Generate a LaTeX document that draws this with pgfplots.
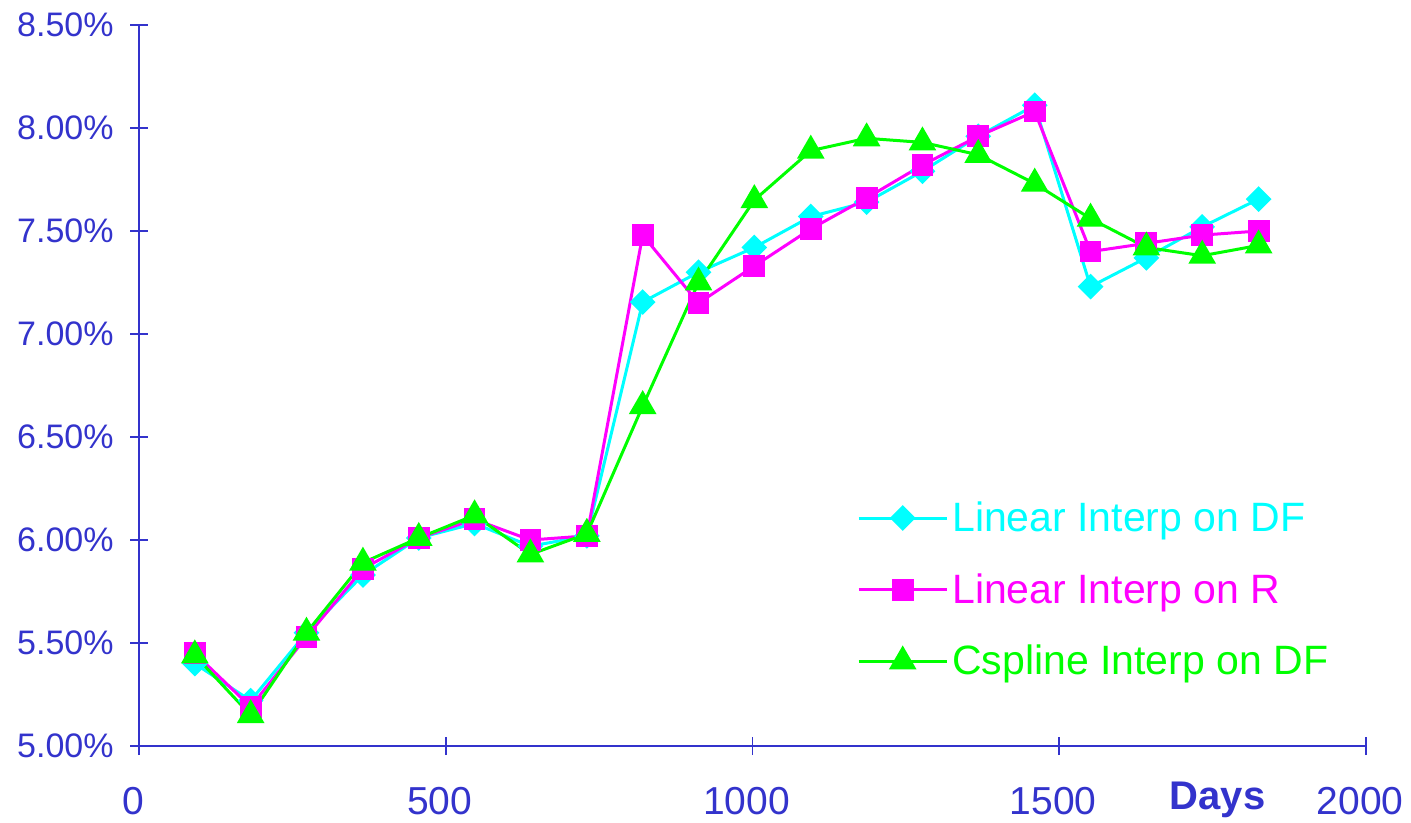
\documentclass[border=0pt]{standalone}
\usepackage{pgfplots}
\pgfplotsset{compat=1.18}
\usepackage{fontspec}
\setmainfont{Liberation Sans}
\definecolor{axblue}{RGB}{51,51,204}
\definecolor{ccyan}{RGB}{0,255,255}
\definecolor{cmag}{RGB}{255,0,255}
\definecolor{cgreen}{RGB}{0,255,0}
\begin{document}
\begin{tikzpicture}
\begin{axis}[
  scale only axis,
  width=613.5pt, height=360.5pt,
  xmin=0, xmax=2000, ymin=5, ymax=8.5,
  axis lines=left,
  axis line style={-, axblue, line width=0.8pt},
  tick style={axblue, line width=0.8pt},
  tick align=center,
  major tick length=9pt,
  xtick={0,500,1000,1500,2000},
  xticklabels={0,500,1000,1500,2000},
  ytick={5,5.5,6,6.5,7,7.5,8,8.5},
  yticklabels={5.00\%,5.50\%,6.00\%,6.50\%,7.00\%,7.50\%,8.00\%,8.50\%},
  yticklabel style={font=\fontsize{17}{20}\selectfont, text=axblue, inner sep=0pt, anchor=east, xshift=-8pt},
  xticklabel style={font=\fontsize{19.5}{22}\selectfont, text=axblue, inner sep=0pt, anchor=north, yshift=-16pt, xshift=-3pt},
  xlabel={\textbf{Days}},
  xlabel style={at={(rel axis cs:0.879,0)}, anchor=north, inner sep=0pt, yshift=-18pt, font=\fontsize{20}{24}\selectfont, text=axblue},
  clip=false,
  legend style={at={(rel axis cs:0.585,0.345)}, anchor=north west, draw=none, fill=none,
    font=\fontsize{20.5}{24}\selectfont, row sep=15.5pt, inner sep=0pt},
  legend cell align=left,
  legend image code/.code={\draw[mark repeat=2,mark phase=2,#1] plot coordinates {(0pt,0pt) (22pt,0pt) (44pt,0pt)};},
]
\addplot[ccyan, line width=1.5pt, mark=square*, mark size=3.8pt, mark options={rotate=45, solid, fill=ccyan, draw=ccyan}] coordinates {
(91,5.40) (182,5.22) (273,5.55) (365,5.83) (456,6.01) (547,6.08) (638,5.97) (730,6.02) (821,7.155) (912,7.30)
(1003,7.42) (1095,7.57) (1186,7.64) (1277,7.79) (1368,7.96) (1460,8.11) (1551,7.23) (1642,7.37) (1733,7.52) (1825,7.655)};
\addlegendentry{\textcolor{ccyan}{Linear Interp on DF}}
\addplot[cmag, line width=1.5pt, mark=square*, mark size=4.7pt, mark options={solid, fill=cmag, draw=cmag}] coordinates {
(91,5.45) (182,5.19) (273,5.53) (365,5.86) (456,6.01) (547,6.10) (638,6.00) (730,6.02) (821,7.48) (912,7.15)
(1003,7.33) (1095,7.51) (1186,7.66) (1277,7.82) (1368,7.96) (1460,8.08) (1551,7.40) (1642,7.44) (1733,7.48) (1825,7.50)};
\addlegendentry{\textcolor{cmag}{Linear Interp on R}}
\addplot[cgreen, line width=1.5pt, mark=triangle*, mark size=6.5pt, mark options={solid, fill=cgreen, draw=cgreen}] coordinates {
(91,5.44) (182,5.15) (273,5.55) (365,5.89) (456,6.01) (547,6.12) (638,5.93) (730,6.03) (821,6.65) (912,7.25)
(1003,7.65) (1095,7.89) (1186,7.95) (1277,7.93) (1368,7.87) (1460,7.73) (1551,7.56) (1642,7.42) (1733,7.38) (1825,7.43)};
\addlegendentry{\textcolor{cgreen}{Cspline Interp on DF}}
\coordinate (bl) at (rel axis cs:0,0);
\coordinate (tr) at (rel axis cs:1,1);
\end{axis}
\pgfresetboundingbox
\path ([xshift=-69.5pt,yshift=-38.5pt]bl) rectangle ([xshift=22.5pt,yshift=12.5pt]tr);
\end{tikzpicture}
\end{document}
